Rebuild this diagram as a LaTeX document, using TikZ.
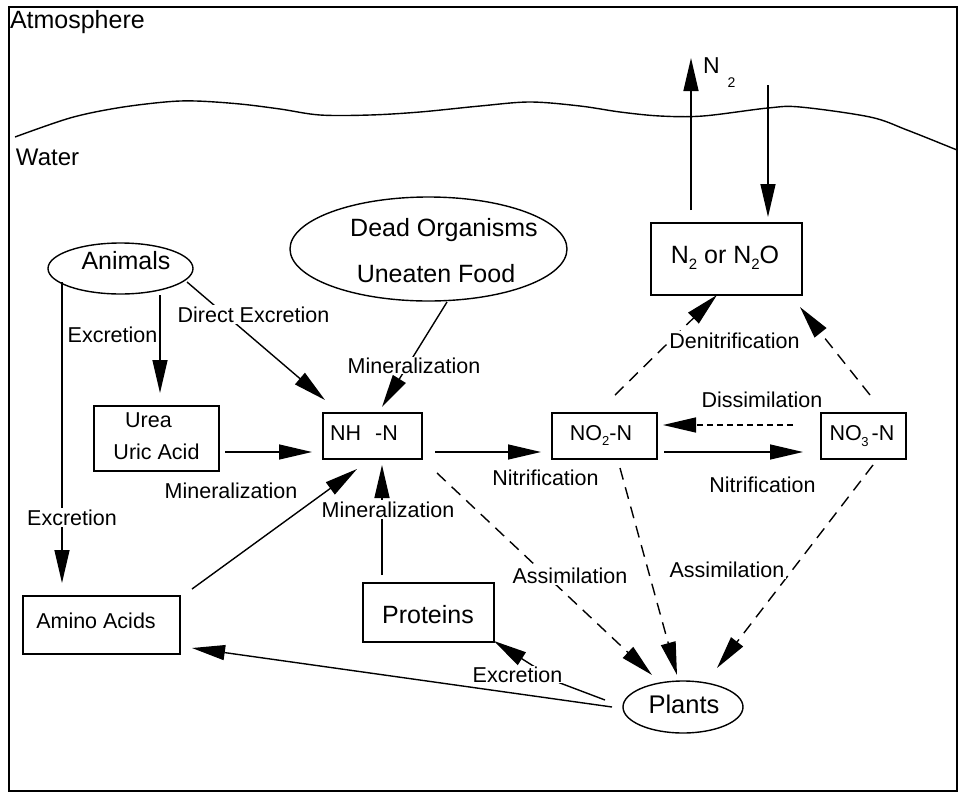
\documentclass[tikz,border=0pt]{standalone}
\usepackage{fontspec}
\setmainfont{Liberation Sans}
\usetikzlibrary{arrows.meta,shapes.geometric}
\begin{document}
\begin{tikzpicture}[x=1pt,y=-1pt,
  every node/.style={inner sep=0pt, outer sep=0pt},
  lw/.style={line width=1.4pt},
  box/.style={draw, lw, rectangle},
  oval/.style={draw, lw, ellipse},
  txt/.style={anchor=base, font=\fontsize{21.5}{24}\selectfont},
  big/.style={anchor=base, font=\fontsize{25}{28}\selectfont},
  lab/.style={txt, fill=white, inner sep=1.5pt},
  arr/.style={lw, -{Triangle[length=33pt,width=15pt]}},
  darr/.style={arr, dash pattern=on 12pt off 8pt},
]
\useasboundingbox (0,0) rectangle (962,793);
\draw[lw] (9,7) rectangle (957,791);
% water surface
\draw[lw] plot[smooth, tension=0.55] coordinates {(15,137) (70,118) (117,108) (165,102) (196,101) (240,104) (280,109) (320,115) (370,115) (420,112) (480,106) (530,102) (580,106) (620,112) (660,116) (703,116) (768,108) (800,107) (870,117) (907,130) (957,150)};
\node[anchor=base west, font=\fontsize{25}{28}\selectfont] (atm) at (10,28) {Atmosphere};
\node[anchor=base west, font=\fontsize{24}{27}\selectfont] (wat) at (16,165) {Water};

% shapes
\node[oval, minimum width=145pt, minimum height=51pt] (animals) at (120.5,268.5) {};
\node[oval, minimum width=277pt, minimum height=104pt] (dead) at (428.5,249) {};
\node[oval, minimum width=120pt, minimum height=52pt] (plants) at (683,707) {};
\node[box, minimum width=125pt, minimum height=65pt] (urea) at (156.5,438.5) {};
\node[box, minimum width=99pt, minimum height=46pt] (nh) at (372.5,436) {};
\node[box, minimum width=105pt, minimum height=46pt] (no2) at (604.5,436) {};
\node[box, minimum width=85pt, minimum height=46pt] (no3) at (863.5,436) {};
\node[box, minimum width=151pt, minimum height=72pt] (n2box) at (726.5,259) {};
\node[box, minimum width=157pt, minimum height=58pt] (amino) at (101.5,625) {};
\node[box, minimum width=131pt, minimum height=59pt] (prot) at (428.5,612.5) {};

% texts in shapes
\node[big] (animalsT) at (126,269) {Animals};
\node[big] (deadT1) at (444,236) {Dead Organisms};
\node[big] (deadT2) at (436,282) {Uneaten Food};
\node[big, font=\fontsize{25.5}{28}\selectfont] (plantsT) at (684,713) {Plants};
\node[txt] (ureaT1) at (148.5,427) {Urea};
\node[txt] (ureaT2) at (156.5,459) {Uric Acid};
\node[txt] (nhT) at (364,440) {NH\hspace{14pt}-N};
\node[txt] (no2T) at (601,440) {NO\raisebox{-5pt}{\fontsize{13}{13}\selectfont 2}-N};
\node[txt] (no3T) at (862,440) {NO\kern-0.5pt\raisebox{-6pt}{\fontsize{13}{13}\selectfont 3}\kern3pt-N};
\node[big] (n2T) at (725,263) {N\raisebox{-6pt}{\fontsize{15}{15}\selectfont 2} or N\raisebox{-6pt}{\fontsize{15}{15}\selectfont 2}O};
\node[txt] (aminoT) at (96,628) {Amino Acids};
\node[big] (protT) at (428,623) {Proteins};
\node[anchor=base west, font=\fontsize{23}{26}\selectfont] (n2up) at (703,73) {N\kern8pt\raisebox{-14pt}{\fontsize{14}{14}\selectfont 2}};

% connector end points
\coordinate (a1) at (160,295); \coordinate (u1) at (160,393);
\coordinate (a2) at (62,282);  \coordinate (am1) at (62,583);
\coordinate (a3) at (187,282); \coordinate (nh1) at (325,400);
\coordinate (d1) at (447,302); \coordinate (nh2) at (382,407);
\coordinate (u2) at (225,452); \coordinate (nh3) at (312,452);
\coordinate (am2) at (192,589); \coordinate (nh4) at (357,469);
\coordinate (p1) at (382,575); \coordinate (nh5) at (382,465);
\coordinate (nh6) at (435,452); \coordinate (no2a) at (541,452);
\coordinate (no2b) at (664,452); \coordinate (no3a) at (803,452);
\coordinate (no3b) at (793,425); \coordinate (no2c) at (663,425);
\coordinate (no2d) at (615,395); \coordinate (n2a) at (717,295);
\coordinate (no3c) at (870,395); \coordinate (n2b) at (800,307);
\coordinate (n2c) at (691,210); \coordinate (top1) at (691,58);
\coordinate (top2) at (768,85); \coordinate (n2d) at (768,217);
\coordinate (nh7) at (437,473); \coordinate (pl1) at (652,675);
\coordinate (no2e) at (620,468); \coordinate (pl2) at (677,675);
\coordinate (no3d) at (873,465); \coordinate (pl3) at (717,668);
\coordinate (pl4) at (612,707); \coordinate (am3) at (192,648);
\coordinate (pl5) at (605,700); \coordinate (bend) at (560,683); \coordinate (p2) at (494,641);

% connectors
\draw[arr] (a1) -- (u1);
\draw[arr] (a2) -- (am1);
\draw[arr] (a3) -- (nh1);
\draw[arr] (d1) -- (nh2);
\draw[arr] (u2) -- (nh3);
\draw[arr] (am2) -- (nh4);
\draw[arr] (p1) -- (nh5);
\draw[arr] (nh6) -- (no2a);
\draw[arr] (no2b) -- (no3a);
\draw[arr, dash pattern=on 6pt off 4pt] (no3b) -- (no2c);
\draw[darr] (no2d) -- (n2a);
\draw[darr] (no3c) -- (n2b);
\draw[arr] (n2c) -- (top1);
\draw[arr] (top2) -- (n2d);
\draw[darr] (nh7) -- (pl1);
\draw[darr] (no2e) -- (pl2);
\draw[darr] (no3d) -- (pl3);
\draw[arr] (pl4) -- (am3);
\draw[arr] (pl5) -- (bend) -- (p2);

% connector labels
\node[txt] (lexc1) at (112.5,342) {Excretion};
\node[lab] (lexc2) at (72,525) {Excretion};
\node[lab] (ldir) at (253.5,322) {Direct Excretion};
\node[lab, inner sep=0.5pt] (lmin1) at (414,373) {Mineralization};
\node[txt] (lmin2) at (231,498) {Mineralization};
\node[lab] (lmin3) at (388,517) {Mineralization};
\node[txt] (lnit1) at (545.5,485) {Nitrification};
\node[txt] (lnit2) at (762.5,492) {Nitrification};
\node[txt] (ldis) at (762,407) {Dissimilation};
\node[lab] (lden) at (734.5,348) {Denitrification};
\node[lab] (lass1) at (570,583) {Assimilation};
\node[lab] (lass2) at (727,577) {Assimilation};
\node[lab, inner sep=0.5pt] (lexc3) at (517.5,682) {Excretion};
\end{tikzpicture}
\end{document}
